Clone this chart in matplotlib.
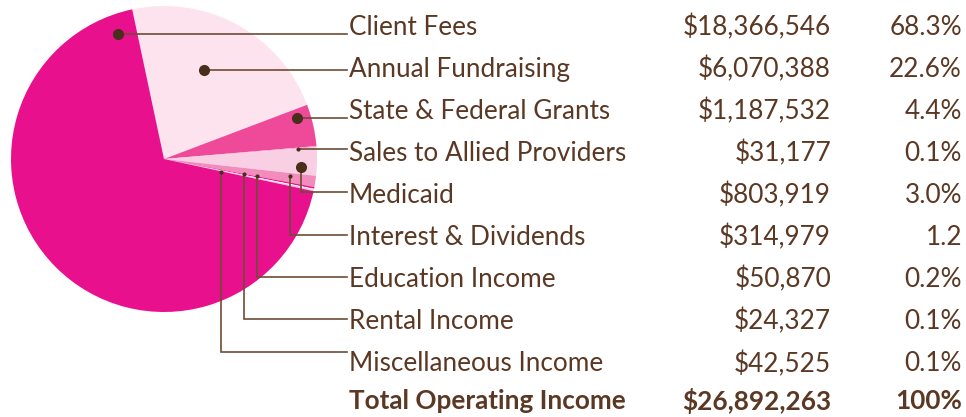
import numpy as np
from matplotlib import pyplot as plt

labels = [
    "Annual Fundraising", "State & Federal Grants", "Sales to Allied Providers",
    "Medicaid", "Interest & Dividends", "Education Income", "Rental Income",
    "Miscellaneous Income", "Client Fees",
]
amounts = [6070388, 1187532, 31177, 803919, 314979, 50870, 24327, 42525, 18366546]
colors = ["#fde3ee", "#ee4a99", "#f7a6cb", "#f9d0e3", "#f18cbc",
          "#e8168f", "#ffffff", "#f9c6dc", "#e8108c"]

# table rows, top to bottom
row_labels = [
    "Client Fees", "Annual Fundraising", "State & Federal Grants",
    "Sales to Allied Providers", "Medicaid", "Interest & Dividends",
    "Education Income", "Rental Income", "Miscellaneous Income",
]
row_amounts = ["$18,366,546", "$6,070,388", "$1,187,532", "$31,177", "$803,919",
               "$314,979", "$50,870", "$24,327", "$42,525"]
row_pcts = ["68.3%", "22.6%", "4.4%", "0.1%", "3.0%", "1.2", "0.2%", "0.1%", "0.1%"]
total_label = "Total Operating Income"
total_amount = "$26,892,263"
total_pct = "100%"

# leader anchors: (angle offset from wedge middle in deg, radius fraction,
#                  elbow, shift of the elbow's horizontal run in px)
anchors = {
    "Client Fees": (-114.8, 0.87, False, 0),
    "Annual Fundraising": (4.5, 0.64, False, 0),
    "State & Federal Grants": (4.4, 0.91, False, 0),
    "Sales to Allied Providers": (-0.3, 0.88, False, 0),
    "Medicaid": (-2.3, 0.90, True, 0),
    "Interest & Dividends": (0.8, 0.83, True, 0),
    "Education Income": (0.6, 0.62, True, 0),
    "Rental Income": (0.8, 0.53, True, 0),
    "Miscellaneous Income": (-1.0, 0.38, True, 9),
}
big_dots = ["Client Fees", "Annual Fundraising", "State & Federal Grants", "Medicaid"]

W, H = 966, 417
TEXT = "#5b3823"
LINE = "#6e4b36"
DOT = "#4a2e1c"
FONT = "Lato"
FS = 18.8

fig = plt.figure(figsize=(W / 100, H / 100), dpi=100)
ax = fig.add_axes([0, 0, 1, 1])

cx, cy, r = 164, H - 159, 153
wedges, _ = ax.pie(amounts, colors=colors, startangle=102, counterclock=False,
                   center=(cx, cy), radius=r, frame=True,
                   wedgeprops=dict(linewidth=0))
ax.set_xlim(0, W)
ax.set_ylim(0, H)
ax.set_aspect("equal")
ax.axis("off")

label_x = 349
row_y = [H - 24 - 42.1 * i for i in range(len(row_labels))]

for name, y in zip(row_labels, row_y):
    w = wedges[labels.index(name)]
    off, rf, elbow, shift = anchors[name]
    ang = np.deg2rad((w.theta1 + w.theta2) / 2 + off)
    px = cx + r * rf * np.cos(ang)
    py = cy + r * rf * np.sin(ang)
    if elbow:
        ly = y + shift
        ax.plot([px, px, label_x - 2], [py, ly, ly], color=LINE, lw=1.2,
                solid_joinstyle="miter")
    else:
        ax.plot([px, label_x - 2], [py, py], color=LINE, lw=1.2)
    ms = 8 if name in big_dots else 3
    ax.plot(px, py, "o", color=DOT, ms=ms, mec="none")

TY = -3  # nudge text down to sit on the row centre
for name, amt, pct, y in zip(row_labels, row_amounts, row_pcts, row_y):
    ax.text(label_x, y + TY, name, color=TEXT, fontsize=FS, family=FONT,
            ha="left", va="center")
    ax.text(831, y + TY, amt, color=TEXT, fontsize=FS, family=FONT,
            ha="right", va="center")
    ax.text(962, y + TY, pct, color=TEXT, fontsize=FS, family=FONT,
            ha="right", va="center")

ty = H - 401
for txt, x, ha in [(total_label, label_x, "left"), (total_amount, 831, "right"),
                   (total_pct, 962, "right")]:
    ax.text(x, ty, txt, color=TEXT, fontsize=FS, family=FONT, weight="bold",
            ha=ha, va="center")

fig.savefig("out.png", dpi=100)
